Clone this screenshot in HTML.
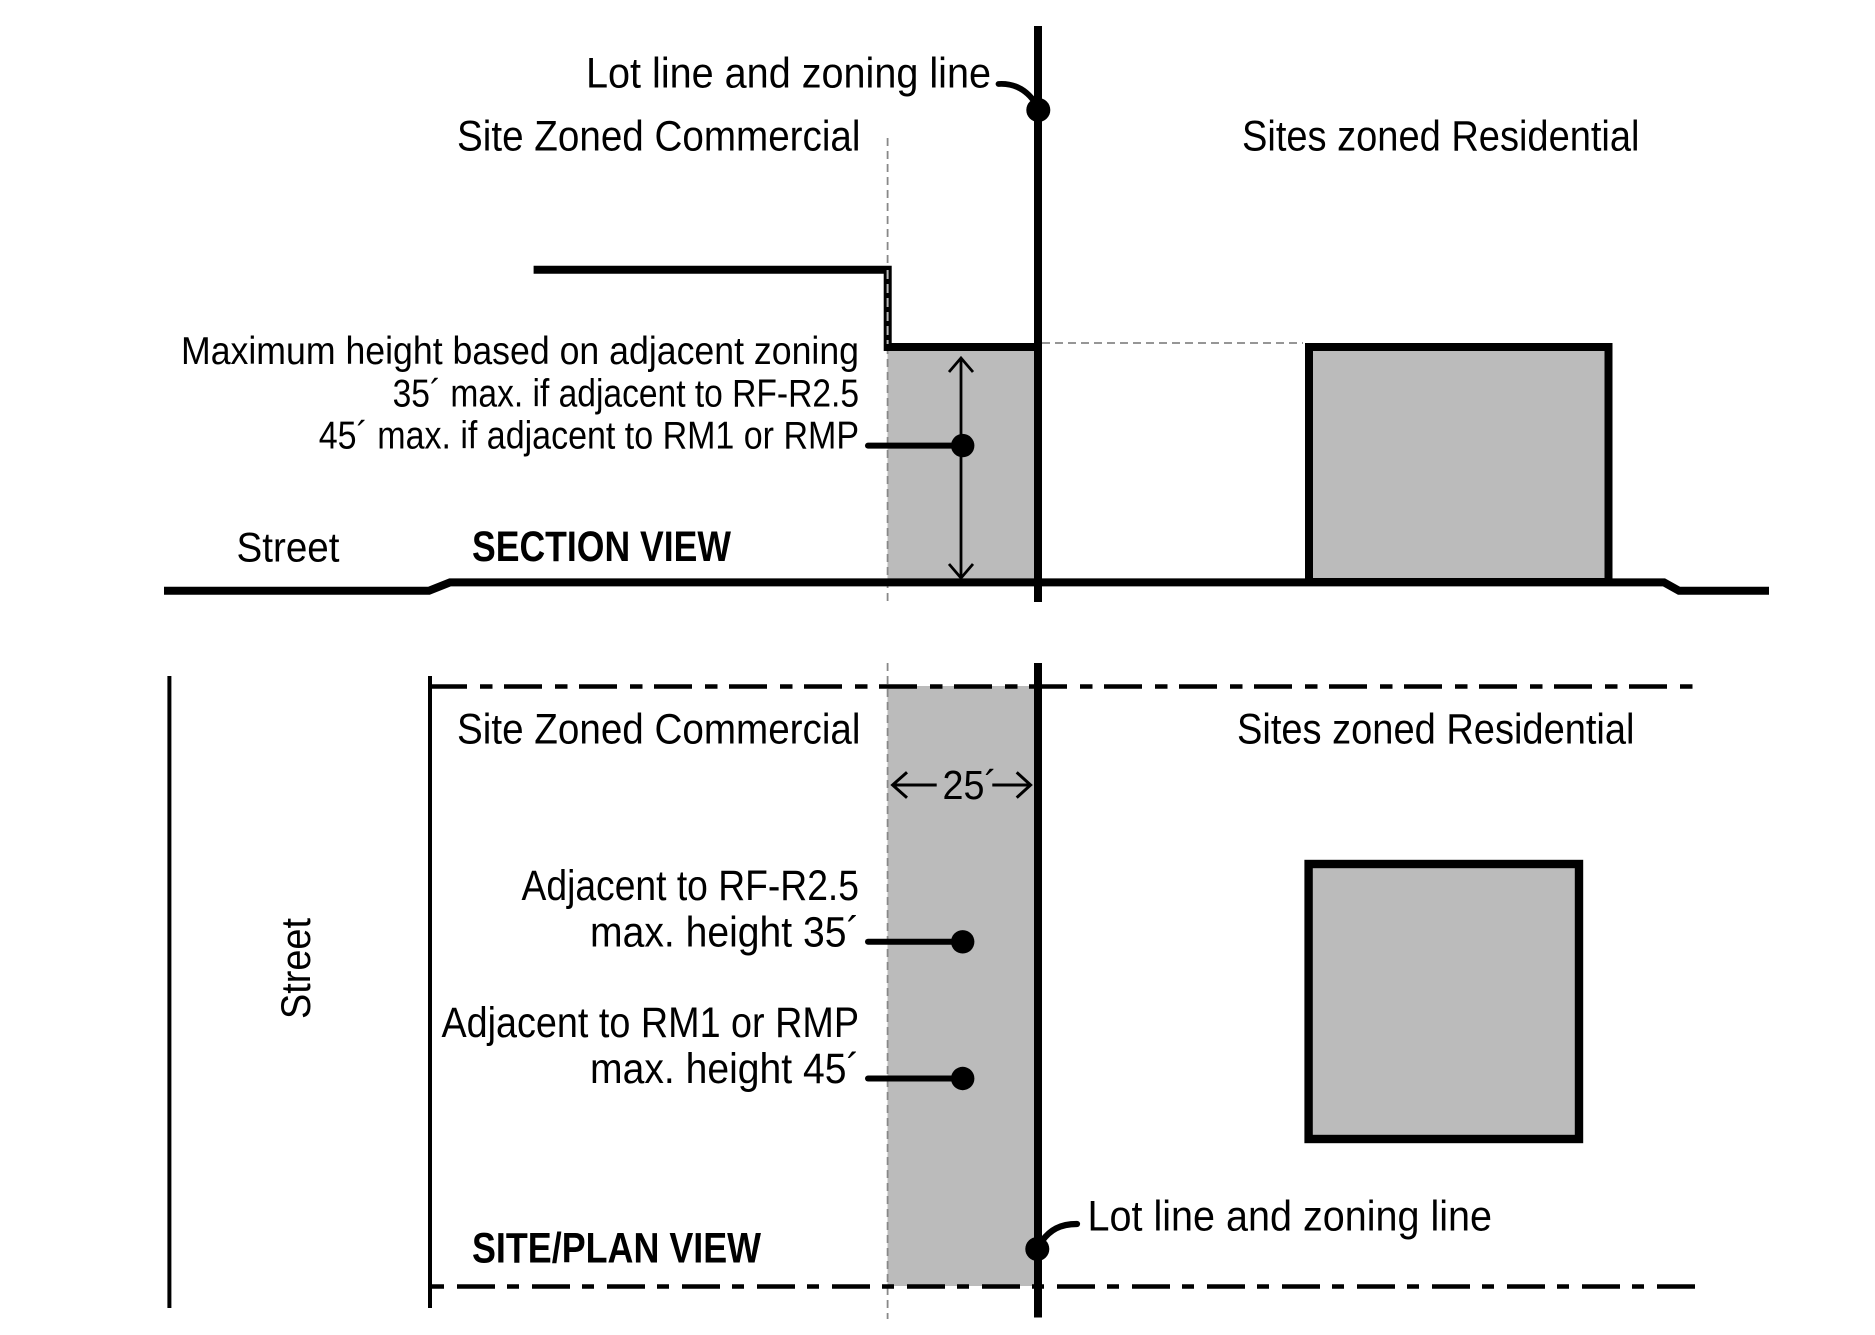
<!DOCTYPE html>
<html lang="en">
<head>
<meta charset="utf-8">
<title>Zoning height diagram</title>
<style>
html,body{margin:0;padding:0;background:#fff;}
svg{display:block;}
text{font-family:"Liberation Sans",sans-serif;fill:#000;}
.b{font-weight:bold;}
</style>
</head>
<body>
<svg width="1875" height="1335" viewBox="0 0 1875 1335" xmlns="http://www.w3.org/2000/svg">
<rect width="1875" height="1335" fill="#fff"/>

<!-- SECTION VIEW -->
<rect x="887.5" y="350" width="148" height="231" fill="#bbb"/>
<line x1="887.6" y1="138" x2="887.6" y2="602" stroke="#888" stroke-width="1.8" stroke-dasharray="8 5"/>
<line x1="1042" y1="343" x2="1303" y2="343" stroke="#888" stroke-width="1.8" stroke-dasharray="8 5"/>
<rect x="1309" y="347" width="299.5" height="235" fill="#bbb" stroke="#000" stroke-width="8"/>

<path d="M164 590.7H429L450 582.4H1664L1679 590.7H1769" fill="none" stroke="#000" stroke-width="8"/>
<path d="M533.6 269.7H887.7V347H1038" fill="none" stroke="#000" stroke-width="8"/>
<line x1="887.6" y1="270" x2="887.6" y2="344" stroke="#bbb" stroke-width="2" stroke-dasharray="9 5"/>
<line x1="1038" y1="26" x2="1038" y2="602" stroke="#000" stroke-width="8"/>

<circle cx="1038.3" cy="110" r="12"/>
<path d="M998.5 84C1015 83 1027 90 1036 104" fill="none" stroke="#000" stroke-width="5.8" stroke-linecap="round"/>

<line x1="961" y1="358" x2="961" y2="578" stroke="#000" stroke-width="2.8"/>
<path d="M949 372L961 358L973 372M949 564L961 578L973 564" fill="none" stroke="#000" stroke-width="2.8"/>
<line x1="868" y1="445.6" x2="962" y2="445.6" stroke="#000" stroke-width="6" stroke-linecap="round"/>
<circle cx="962.7" cy="445.6" r="11.7"/>

<text x="586" y="87.5" font-size="43" textLength="405" lengthAdjust="spacingAndGlyphs">Lot line and zoning line</text>
<text x="457" y="150.5" font-size="43" textLength="403.5" lengthAdjust="spacingAndGlyphs">Site Zoned Commercial</text>
<text x="1242" y="150.5" font-size="43" textLength="397.5" lengthAdjust="spacingAndGlyphs">Sites zoned Residential</text>
<text x="181" y="364" font-size="39" textLength="678" lengthAdjust="spacingAndGlyphs">Maximum height based on adjacent zoning</text>
<text x="392.6" y="406.3" font-size="39" textLength="466.4" lengthAdjust="spacingAndGlyphs">35´ max. if adjacent to RF-R2.5</text>
<text x="318.7" y="448.6" font-size="39" textLength="540.3" lengthAdjust="spacingAndGlyphs">45´ max. if adjacent to RM1 or RMP</text>
<text x="236.5" y="561.7" font-size="42" textLength="103" lengthAdjust="spacingAndGlyphs">Street</text>
<text class="b" x="472" y="561" font-size="43" textLength="259" lengthAdjust="spacingAndGlyphs">SECTION VIEW</text>

<!-- SITE / PLAN VIEW -->
<rect x="887.5" y="686" width="148" height="600" fill="#bbb"/>
<line x1="887.6" y1="663" x2="887.6" y2="1319" stroke="#888" stroke-width="1.8" stroke-dasharray="8 5"/>
<line x1="169.4" y1="676" x2="169.4" y2="1308" stroke="#000" stroke-width="4"/>
<line x1="430" y1="676" x2="430" y2="1308" stroke="#000" stroke-width="4"/>
<line x1="429" y1="686.5" x2="1692.5" y2="686.5" stroke="#000" stroke-width="4.6" stroke-dasharray="38 13 12.5 11.5"/>
<line x1="432" y1="1286.5" x2="1695" y2="1286.5" stroke="#000" stroke-width="4.6" stroke-dasharray="12 13 38 12"/>
<line x1="1038" y1="663" x2="1038" y2="1317.5" stroke="#000" stroke-width="8"/>
<rect x="1308.6" y="864" width="270.4" height="275" fill="#bbb" stroke="#000" stroke-width="8.4"/>

<path d="M936.7 785H893M907 772.3L892.6 785L907 797.7M992.3 785H1030M1016.7 772.3L1030.6 785L1016.7 797.7" fill="none" stroke="#000" stroke-width="3"/>
<line x1="868" y1="941.8" x2="962" y2="941.8" stroke="#000" stroke-width="6" stroke-linecap="round"/>
<circle cx="962.7" cy="941.8" r="11.7"/>
<line x1="868" y1="1078.5" x2="962" y2="1078.5" stroke="#000" stroke-width="6" stroke-linecap="round"/>
<circle cx="962.7" cy="1078.5" r="11.7"/>
<circle cx="1037.3" cy="1249" r="12"/>
<path d="M1042 1241C1050 1230 1060 1224 1077 1224" fill="none" stroke="#000" stroke-width="6.2" stroke-linecap="round"/>

<text x="457" y="743.6" font-size="43" textLength="403.5" lengthAdjust="spacingAndGlyphs">Site Zoned Commercial</text>
<text x="1237" y="743.6" font-size="43" textLength="397.5" lengthAdjust="spacingAndGlyphs">Sites zoned Residential</text>
<text x="942.5" y="799" font-size="41" textLength="54.5" lengthAdjust="spacingAndGlyphs">25´</text>
<text x="521.5" y="900" font-size="43" textLength="337.5" lengthAdjust="spacingAndGlyphs">Adjacent to RF-R2.5</text>
<text x="590" y="946.3" font-size="43" textLength="269.5" lengthAdjust="spacingAndGlyphs">max. height 35´</text>
<text x="441.5" y="1037" font-size="43" textLength="417.5" lengthAdjust="spacingAndGlyphs">Adjacent to RM1 or RMP</text>
<text x="590" y="1083" font-size="43" textLength="269.5" lengthAdjust="spacingAndGlyphs">max. height 45´</text>
<text class="b" x="472" y="1262.6" font-size="43" textLength="289" lengthAdjust="spacingAndGlyphs">SITE/PLAN VIEW</text>
<text x="1087.5" y="1230.7" font-size="43" textLength="404.5" lengthAdjust="spacingAndGlyphs">Lot line and zoning line</text>
<text transform="translate(310 1019) rotate(-90)" font-size="42" textLength="101" lengthAdjust="spacingAndGlyphs">Street</text>
</svg>
</body>
</html>
